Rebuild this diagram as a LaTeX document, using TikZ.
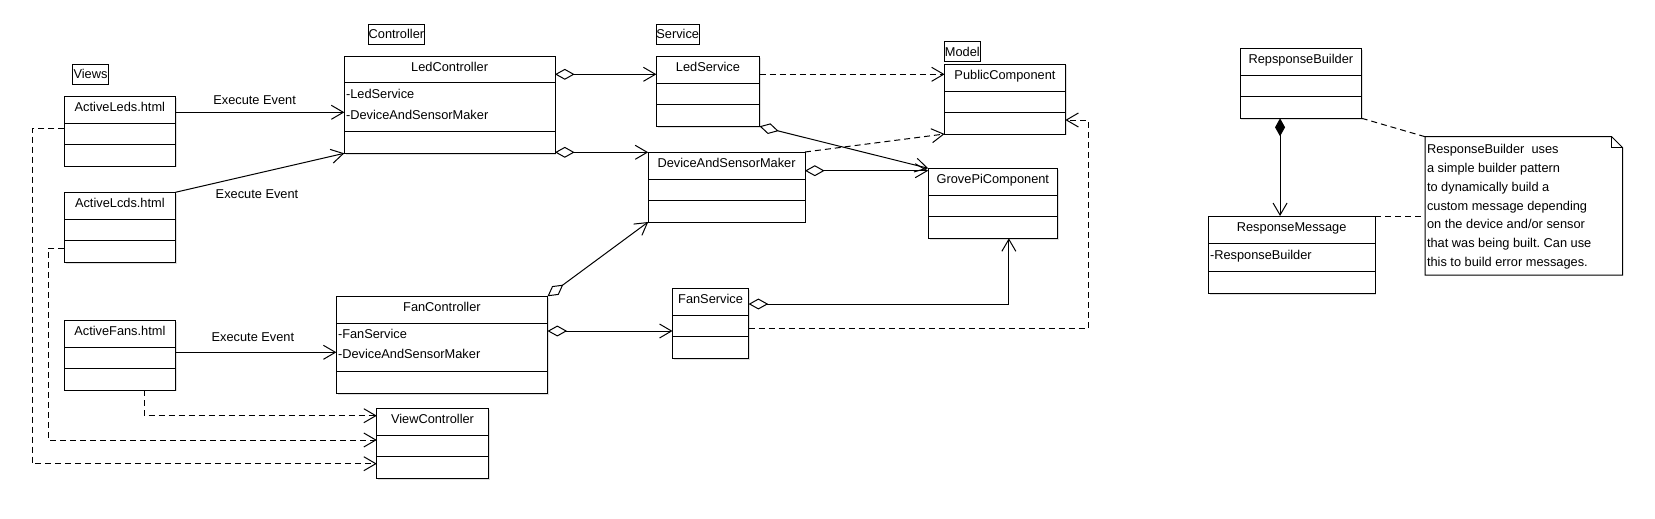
\documentclass[tikz,border=0pt]{standalone}
\usepackage{fontspec}
\setmainfont{Liberation Sans}
\usetikzlibrary{arrows.meta,calc,shadows}
\frenchspacing

\tikzset{
  every node/.style={font=\fontsize{9.6pt}{11pt}\selectfont, inner sep=0pt, outer sep=0pt},
  clsbox/.style={draw, line width=0.75pt, fill=white,
    drop shadow={shadow xshift=1.1pt, shadow yshift=-1.1pt, opacity=0.25}},
  txt/.style={text height=7pt, text depth=0pt},
  pkg/.style={draw, line width=0.75pt, minimum height=15pt, txt},
  link/.style={line width=0.75pt},
  opentip/.tip={Straight Barb[length=9pt, width=10.5pt, line width=0.75pt]},
  nav/.style={link, -opentip},
  agg/.style={link, {Diamond[open, length=14.7pt, width=8.2pt, line width=0.75pt]}-opentip},
  comp/.style={link, {Diamond[length=13.5pt, width=7.5pt]}-opentip},
  dep/.style={link, dash pattern=on 4.5pt off 3pt, -opentip},
  notelink/.style={link, dash pattern=on 4.5pt off 3pt},
}

\newcommand{\umlcls}[8]{%
  \node[clsbox, minimum width={(#4-#2)*0.75pt}, minimum height={(#5-#3)*0.75pt}] (#1) at ({(#2+#4)/2},{(#3+#5)/2}) {};
  \draw[line width=0.75pt] (#2,#6) -- (#4,#6) (#2,#7) -- (#4,#7);
  \node[txt] (#1-title) at ({(#2+#4)/2},{#3+10.8}) {#8};
}

\begin{document}
\begin{tikzpicture}[x=0.75pt, y=-0.75pt]
\useasboundingbox (0,0) rectangle (1655,518);

% package labels
\node[pkg, minimum width=27pt] (views) at (90.5,74.2) {Views};
\node[pkg, minimum width=42.3pt] (ctrllbl) at (396.4,34.3) {Controller};
\node[pkg, minimum width=32pt] (svclbl) at (677.7,34.3) {Service};
\node[pkg, minimum width=27pt] (modellbl) at (962.3,51.7) {Model};

% classes
\umlcls{leds}{64.3}{96.3}{175.4}{166}{123.3}{144.3}{ActiveLeds.html}
\umlcls{lcds}{64.3}{192.3}{175.4}{262.3}{219.3}{240.3}{ActiveLcds.html}
\umlcls{fans}{64.3}{320.3}{175.4}{390}{347.3}{368.7}{ActiveFans.html}
\umlcls{ledctrl}{344.3}{56.3}{555}{153.3}{82.7}{131.3}{LedController}
\umlcls{fanctrl}{336.4}{296.3}{547.5}{393.3}{323.3}{371}{FanController}
\umlcls{viewctrl}{376.8}{408.3}{488.2}{478.3}{435.3}{456.3}{ViewController}
\umlcls{ledsvc}{656.4}{56.3}{759.6}{126.3}{83}{104.3}{LedService}
\umlcls{dasm}{648.2}{152}{805}{222}{179.3}{200.7}{DeviceAndSensorMaker}
\umlcls{fansvc}{672.5}{288.3}{748.6}{358.3}{315}{336.3}{FanService}
\umlcls{pubcomp}{944.6}{64}{1065.4}{134}{91}{112.3}{PublicComponent}
\umlcls{grove}{928.2}{168.3}{1057.5}{238.3}{195}{216.3}{GrovePiComponent}
\umlcls{rb}{1240}{48.3}{1361.7}{118.3}{75.7}{96.7}{RepsponseBuilder}
\umlcls{rm}{1208.3}{216}{1375}{293.3}{243.3}{271.7}{ResponseMessage}

% attributes
\node[txt, anchor=west] (ledctrl-a1) at (346,94) {-LedService};
\node[txt, anchor=west] (ledctrl-a2) at (346,114.7) {-DeviceAndSensorMaker};
\node[txt, anchor=west] (fanctrl-a1) at (338,334.3) {-FanService};
\node[txt, anchor=west] (fanctrl-a2) at (338,354.3) {-DeviceAndSensorMaker};
\node[txt, anchor=west] (rm-a1) at (1210,255) {-ResponseBuilder};

% note
\node[minimum width={197.7*0.75pt}, minimum height={138.3*0.75pt}] (note) at (1523.85,205.85) {};
\draw[line width=0.75pt, fill=white] (note.north west) -- ($(note.north east)+(-11,0)$) -- ($(note.north east)+(0,11)$) -- (note.south east) -- (note.south west) -- cycle;
\draw[line width=0.75pt] ($(note.north east)+(-11,0)$) -- ($(note.north east)+(-11,11)$) -- ($(note.north east)+(0,11)$);
\node[txt, anchor=west] (n1) at (1427,149) {ResponseBuilder \ uses};
\node[txt, anchor=west] (n2) at (1427,167.8) {a simple builder pattern};
\node[txt, anchor=west] (n3) at (1427,186.6) {to dynamically build a};
\node[txt, anchor=west] (n4) at (1427,205.4) {custom message depending};
\node[txt, anchor=west] (n5) at (1427,224.2) {on the device and/or sensor};
\node[txt, anchor=west] (n6) at (1427,243) {that was being built. Can use};
\node[txt, anchor=west] (n7) at (1427,261.8) {this to build error messages.};

% view -> controller
\draw[nav] (leds.east |- 0,112.3) -- (ledctrl.west |- 0,112.3);
\node[txt] (ee1) at (254.6,100) {Execute Event};
\draw[nav] (lcds.north east) -- (ledctrl.south west);
\node[txt] (ee2) at (257,194.3) {Execute Event};
\draw[nav] (fans.east |- 0,352.3) -- (fanctrl.west |- 0,352.3);
\node[txt] (ee3) at (252.9,336.7) {Execute Event};

% aggregations
\draw[agg] (ledctrl.east |- 0,74.3) -- (ledsvc.west |- 0,74.3);
\draw[agg] (ledctrl.east |- 0,152.3) -- (dasm.west |- 0,152.3);
\draw[agg] (ledsvc.south east) -- (grove.north west);
\draw[agg] (dasm.east |- 0,170.7) -- (grove.west |- 0,170.7);
\draw[agg] (fanctrl.north east) -- (dasm.south west);
\draw[agg] (fanctrl.east |- 0,331) -- (fansvc.west |- 0,331);
\draw[agg] (fansvc.east |- 0,304) -| ($(grove.south)+(16,0)$);

% dependencies
\draw[dep] (ledsvc.east |- 0,74.3) -- (pubcomp.west |- 0,74.3);
\draw[dep] (dasm.north east) -- (pubcomp.south west);
\draw[dep] (fansvc.east |- 0,328.3) -- ++(339.6,0) |- (pubcomp.east |- 0,120);
\draw[dep] (leds.west |- 0,128.3) -| (32.5,463.7) -- (viewctrl.west |- 0,463.7);
\draw[dep] (lcds.west |- 0,248.3) -| (48.2,440) -- (viewctrl.west |- 0,440);
\draw[dep] (fans.south -| 144.3,0) |- (viewctrl.west |- 0,415.7);

% response builder
\coordinate (cx) at ($(rb.south)+(-20.8,0)$);
\draw[comp] (cx) -- (rm.north -| cx);
\draw[notelink] (rb.south east) -- (note.north west);
\draw[notelink] (rm.north east) -- (note.west |- rm.north east);
\end{tikzpicture}
\end{document}
